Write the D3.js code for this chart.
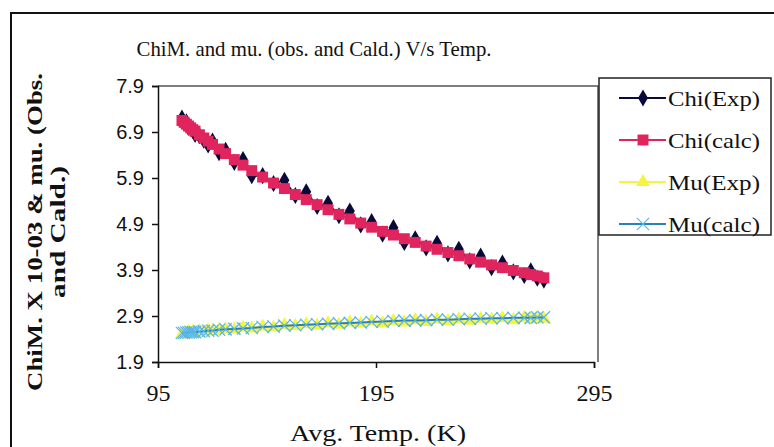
<!DOCTYPE html>
<meta charset="utf-8">
<style>
  body { margin: 0; background: #fff; }
  svg { display: block; }
  .serif { font-family: "Liberation Serif", "DejaVu Serif", serif; }
</style>
<svg width="774" height="447"></svg>
<script src="https://d3js.org/d3.v7.min.js"></script>
<script>

// temperatures (K) and series
var temps   = [106,107,108,109,110,111,112,114,116,118,120,123,126,130,134,138,143,148,153,158,163,168,173,178,183,188,193,198,203,208,213,218,223,228,233,238,243,248,253,258,263,266,269,272];
var chiExp  = [7.20,7.10,7.12,7.00,6.98,6.93,6.85,6.82,6.72,6.62,6.70,6.45,6.50,6.24,6.30,5.95,5.95,5.78,5.85,5.52,5.60,5.28,5.35,5.08,5.18,4.88,4.95,4.68,4.82,4.50,4.58,4.38,4.48,4.25,4.35,4.10,4.20,3.95,4.05,3.86,3.78,3.88,3.72,3.68];
var chiCalc = [7.15,7.11,7.07,7.03,6.99,6.95,6.92,6.84,6.77,6.70,6.63,6.53,6.43,6.30,6.18,6.06,5.92,5.79,5.67,5.54,5.43,5.32,5.21,5.11,5.01,4.92,4.83,4.74,4.66,4.58,4.50,4.42,4.35,4.28,4.21,4.14,4.07,4.01,3.95,3.89,3.84,3.80,3.77,3.73];
var muExp   = [2.50,2.53,2.51,2.55,2.52,2.56,2.54,2.57,2.55,2.59,2.57,2.60,2.61,2.60,2.65,2.63,2.67,2.65,2.70,2.68,2.72,2.69,2.74,2.71,2.76,2.73,2.78,2.74,2.79,2.76,2.81,2.77,2.82,2.79,2.83,2.80,2.84,2.82,2.85,2.81,2.86,2.83,2.87,2.84];
var muCalc  = [2.53,2.53,2.54,2.54,2.55,2.55,2.55,2.56,2.57,2.58,2.58,2.60,2.61,2.62,2.63,2.64,2.66,2.67,2.69,2.70,2.71,2.72,2.73,2.74,2.75,2.76,2.77,2.78,2.79,2.80,2.80,2.81,2.82,2.82,2.83,2.84,2.84,2.85,2.85,2.86,2.86,2.86,2.87,2.87];

var xTicks = [95, 195, 295];
var yTicks = [1.9, 2.9, 3.9, 4.9, 5.9, 6.9, 7.9];
var seriesNames = ["Chi(Exp)", "Chi(calc)", "Mu(Exp)", "Mu(calc)"];

var svg = d3.select("svg");

// outer chart border
svg.append("rect")
    .attr("x", 11).attr("y", 13)
    .attr("width", 800).attr("height", 500)
    .attr("fill", "#fff")
    .attr("stroke", "#111").attr("stroke-width", 2);

var x = d3.scaleLinear().domain([95, 295]).range([158, 594]);
var y = d3.scaleLinear().domain([1.9, 7.9]).range([362, 86]);

// plot area frame (top + right)
svg.append("path")
    .attr("d", "M158,86H598V362")
    .attr("fill", "none")
    .attr("stroke", "#555").attr("stroke-width", 1.5);

// y axis
var yAxis = svg.append("g")
    .attr("transform", "translate(158,0)")
    .call(d3.axisLeft(y).tickValues(yTicks).tickSize(6).tickPadding(8).tickFormat(d3.format(".1f")));
yAxis.selectAll("text")
    .attr("font-family", "Liberation Sans, Arial, sans-serif")
    .attr("font-size", 20).attr("fill", "#111");

// x axis
var xAxis = svg.append("g")
    .attr("transform", "translate(0,362)")
    .call(d3.axisBottom(x).tickValues(xTicks).tickSize(6).tickPadding(16).tickFormat(d3.format("d")));
xAxis.selectAll("text")
    .attr("class", "serif")
    .attr("font-size", 24).attr("fill", "#111");

svg.selectAll(".domain, .tick line").attr("stroke", "#111").attr("stroke-width", 1.5);

var pts = function(vals) { return temps.map(function(t, i) { return [t, vals[i]]; }); };
var line = d3.line().x(function(d) { return x(d[0]); }).y(function(d) { return y(d[1]); });

var styles = [
  { vals: chiExp,  line: "#0a0a3a", fill: "#0a0a3a", sym: d3.symbolDiamond,  size: 85 },
  { vals: chiCalc, line: "#e0245e", fill: "#e0245e", sym: d3.symbolSquare,   size: 120 },
  { vals: muExp,   line: "#f5f540", fill: "#f5f540", sym: d3.symbolTriangle, size: 85 },
  { vals: muCalc,  line: "#2a80b9", fill: "#5ab4e8", sym: d3.symbolX,        size: 100 }
];

styles.forEach(function(s) {
  var data = pts(s.vals);
  svg.append("path")
      .attr("d", line(data))
      .attr("fill", "none")
      .attr("stroke", s.line).attr("stroke-width", 2);
  svg.append("g").selectAll("path")
      .data(data)
      .enter().append("path")
      .attr("transform", function(d) { return "translate(" + x(d[0]) + "," + y(d[1]) + ")"; })
      .attr("d", d3.symbol().type(s.sym).size(s.size))
      .attr("fill", s.sym === d3.symbolX ? "none" : s.fill)
      .attr("stroke", s.sym === d3.symbolX ? s.fill : "none")
      .attr("stroke-width", 1.2);
});

// title
svg.append("text")
    .attr("class", "serif")
    .attr("x", 314).attr("y", 56)
    .attr("text-anchor", "middle")
    .attr("font-size", 22).attr("fill", "#111")
    .attr("textLength", 355).attr("lengthAdjust", "spacingAndGlyphs")
    .text("ChiM. and mu. (obs. and Cald.) V/s Temp.");

// axis titles
svg.append("text")
    .attr("class", "serif")
    .attr("x", 378).attr("y", 441)
    .attr("text-anchor", "middle")
    .attr("font-size", 23).attr("fill", "#111")
    .attr("textLength", 176).attr("lengthAdjust", "spacingAndGlyphs")
    .text("Avg. Temp. (K)");

var yTitle = svg.append("text")
    .attr("class", "serif")
    .attr("transform", "translate(42,232) rotate(-90)")
    .attr("text-anchor", "middle")
    .attr("font-size", 20).attr("font-weight", "bold").attr("fill", "#111");
yTitle.append("tspan").attr("x", 0).attr("y", 0)
    .attr("textLength", 318).attr("lengthAdjust", "spacingAndGlyphs")
    .text("ChiM. X 10-03 & mu. (Obs.");
yTitle.append("tspan").attr("x", 0).attr("y", 23)
    .attr("textLength", 132).attr("lengthAdjust", "spacingAndGlyphs")
    .text("and Cald.)");

// legend
var legend = svg.append("g");
legend.append("rect")
    .attr("x", 599).attr("y", 78)
    .attr("width", 172).attr("height", 157)
    .attr("fill", "#fff")
    .attr("stroke", "#222").attr("stroke-width", 1.5);

var item = legend.selectAll("g.item")
    .data(seriesNames)
    .enter().append("g")
    .attr("class", "item")
    .attr("transform", function(d, i) { return "translate(0," + (98 + i * 42) + ")"; });

item.append("line")
    .attr("x1", 619).attr("x2", 666)
    .attr("stroke", function(d, i) { return styles[i].line; })
    .attr("stroke-width", 2);
item.append("path")
    .attr("transform", "translate(643,0)")
    .attr("d", function(d, i) { return d3.symbol().type(styles[i].sym).size(styles[i].size)(); })
    .attr("fill", function(d, i) { return styles[i].sym === d3.symbolX ? "none" : styles[i].fill; })
    .attr("stroke", function(d, i) { return styles[i].sym === d3.symbolX ? styles[i].fill : "none"; })
    .attr("stroke-width", 1.2);
item.append("text")
    .attr("class", "serif")
    .attr("x", 668).attr("dy", "0.35em")
    .attr("font-size", 22).attr("fill", "#111")
    .attr("textLength", 92).attr("lengthAdjust", "spacingAndGlyphs")
    .text(function(d) { return d; });

</script>
